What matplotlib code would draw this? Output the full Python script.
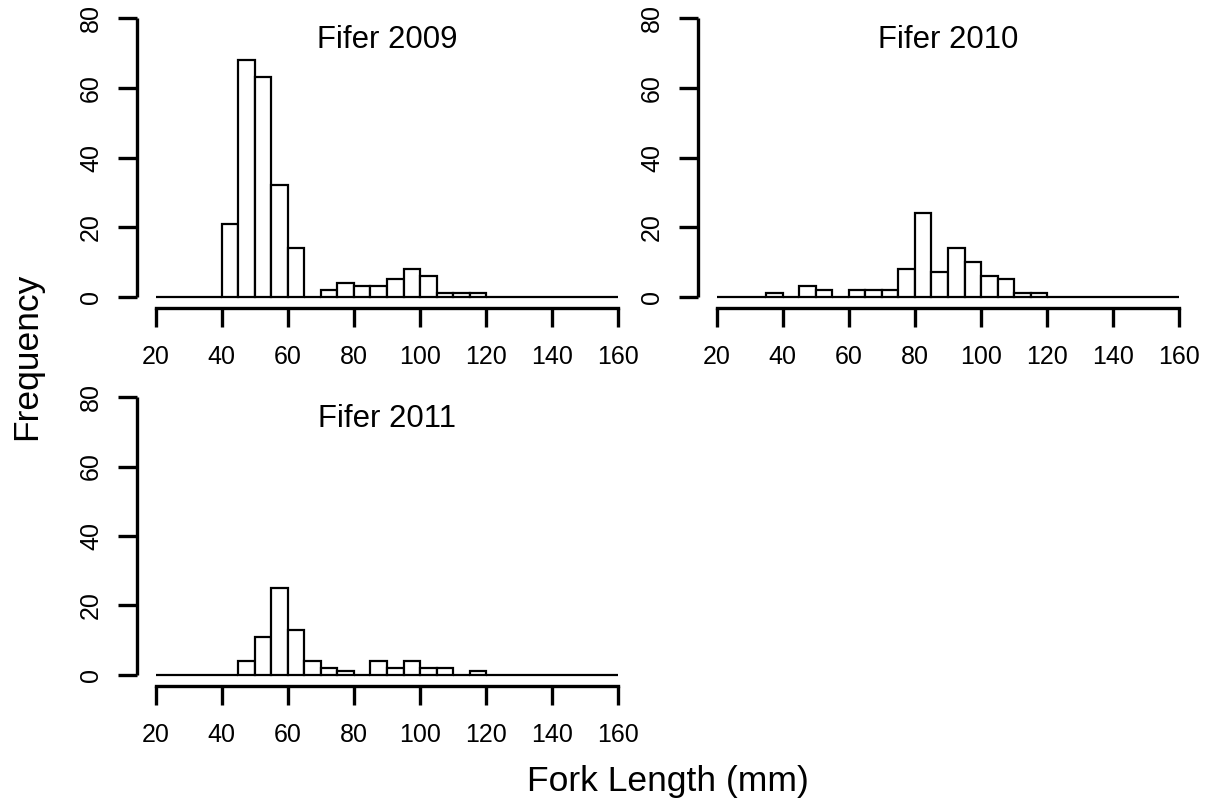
import numpy as np
import matplotlib
matplotlib.use("Agg")
import matplotlib.pyplot as plt

plt.rcParams['font.family'] = ['Liberation Sans', 'DejaVu Sans']

# bin edges (mm)
bin_edges = list(range(20, 165, 5))  # 20..160, 28 bins

# counts per 5-mm bin, starting at 20-25
counts_2009 = [0, 0, 0, 0, 21, 68, 63, 32, 14, 0, 2, 4, 3, 3, 5, 8, 6, 1, 1, 1,
               0, 0, 0, 0, 0, 0, 0, 0]
counts_2010 = [0, 0, 0, 1, 0, 3, 2, 0, 2, 2, 2, 8, 24, 7, 14, 10, 6, 5, 1, 1,
               0, 0, 0, 0, 0, 0, 0, 0]
counts_2011 = [0, 0, 0, 0, 0, 4, 11, 25, 13, 4, 2, 1, 0, 4, 2, 4, 2, 2, 0, 1,
               0, 0, 0, 0, 0, 0, 0, 0]

titles = ["Fifer 2009", "Fifer 2010", "Fifer 2011"]
x_ticks = [20, 40, 60, 80, 100, 120, 140, 160]
y_ticks = [0, 20, 40, 60, 80]

W, H = 1212, 807
fig = plt.figure(figsize=(W / 100, H / 100), dpi=100)

def px_axes(left, top, right, bottom):
    return fig.add_axes([left / W, 1 - bottom / H, (right - left) / W, (bottom - top) / H])

axes_boxes = [
    (137, 7, 637, 308),
    (698, 7, 1198, 308),
    (137, 386, 637, 686),
]

for box, counts, title in zip(axes_boxes, [counts_2009, counts_2010, counts_2011], titles):
    ax = px_axes(*box)
    lefts = np.array(bin_edges[:-1])
    ax.bar(lefts, counts, width=5, align='edge', facecolor='white',
           edgecolor='black', linewidth=1.6)
    ax.set_xlim(14.4, 165.6)
    ax.set_ylim(-3.2, 83.2)
    for s in ['top', 'right']:
        ax.spines[s].set_visible(False)
    ax.spines['left'].set_bounds(0, 80)
    ax.spines['bottom'].set_bounds(20, 160)
    ax.spines['left'].set_linewidth(2.4)
    ax.spines['bottom'].set_linewidth(2.4)
    ax.spines['left'].set_capstyle('butt')
    ax.set_xticks(x_ticks)
    ax.set_yticks(y_ticks)
    ax.tick_params(axis='both', length=13.5, width=2.4, labelsize=18, direction='out')
    ax.tick_params(axis='x', pad=13)
    ax.tick_params(axis='y', pad=11)
    for lab in ax.get_yticklabels():
        lab.set_rotation(90)
        lab.set_va('center')
    ax.text(0.5, 0.89, title, transform=ax.transAxes, ha='center', va='center',
            fontsize=22.4)

fig.text(27 / W, 1 - 356 / H, "Frequency", rotation=90, ha='center', va='center', fontsize=25.5)
fig.text(668 / W, 1 - 781 / H, "Fork Length (mm)", ha='center', va='center', fontsize=25.5)

fig.savefig("out.png", dpi=100)
